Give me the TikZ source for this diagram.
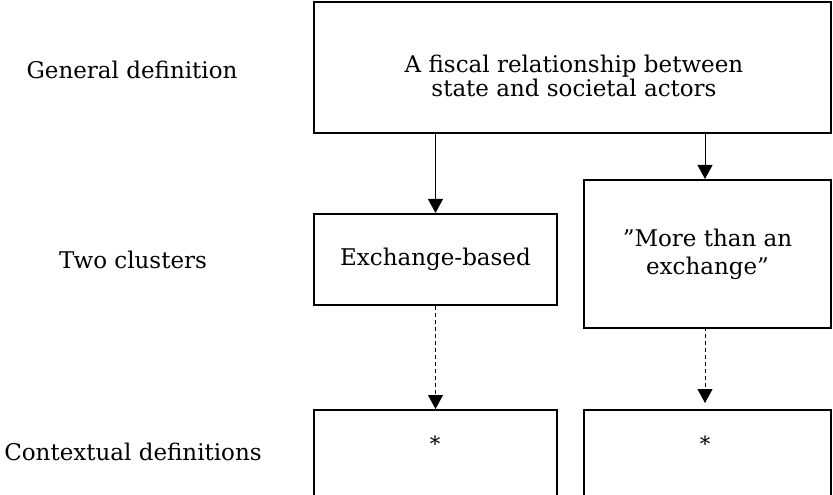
\documentclass[tikz,border=0pt]{standalone}
\usepackage{fontspec}
\setmainfont{DejaVu Serif}
\usetikzlibrary{arrows.meta}
\begin{document}
\begin{tikzpicture}[x=1pt,y=-1pt,
  every node/.style={font=\fontsize{23}{22}\selectfont, text=black},
  frame/.style={draw, line width=2.1pt, inner sep=0pt},
  rowlabel/.style={anchor=center},
  star/.style={font=\fontsize{21}{22}\selectfont},
  link/.style={line width=1pt, -{Triangle[width=15pt,length=14pt]}},
  dashlink/.style={link, dash pattern=on 4pt off 3pt}]
  \useasboundingbox (0,0) rectangle (833,495);
  \clip (0,0) rectangle (833,495);

  % row captions
  \node[rowlabel] (rgen) at (132,70) {General definition};
  \node[rowlabel] (rtwo) at (133,260) {Two clusters};
  \node[rowlabel] (rctx) at (133,452) {Contextual definitions};

  % general definition
  \node[frame, minimum width=517pt, minimum height=131pt] (gen) at (572.5,67.5) {};
  \node[align=center] (gentext) at (574,76) {A fiscal relationship between\\state and societal actors};

  % the two clusters
  \node[frame, minimum width=243pt, minimum height=91pt] (exch) at (435.5,259.5) {Exchange-based};
  \node[frame, minimum width=247pt, minimum height=148pt, align=center,
        font=\fontsize{23}{28}\selectfont] (more) at (707.5,254) {”More than an\\exchange”};

  % contextual definitions (boxes run past the lower edge)
  \node[frame, minimum width=243pt, minimum height=130pt, anchor=north] (ctxl) at (435.5,409) {};
  \node[frame, minimum width=247pt, minimum height=130pt, anchor=north] (ctxr) at (707.5,409) {};
  \node[star] (astl) at (435,444) {*};
  \node[star] (astr) at (705,444) {*};

  % connectors
  \draw[link] (gen.south -| exch.north) -- (exch.north);
  \draw[link] (705,133) coordinate (gr) -- (gr |- more.north);
  \draw[dashlink] (exch.south) -- (exch.south |- ctxl.north);
  \draw[dashlink, shorten >=6pt] (705,327) coordinate (mr) -- (mr |- ctxr.north);
\end{tikzpicture}
\end{document}
